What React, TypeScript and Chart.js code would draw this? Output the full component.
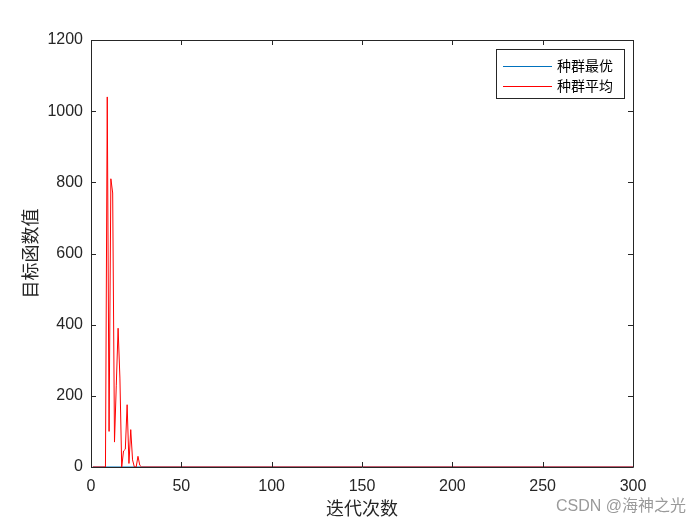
import React, { useEffect, useRef } from "react";
import { Chart, registerables } from "chart.js";

Chart.register(...registerables);

// Iterations and values (piecewise points)
const avgIters = [1, 8, 9, 10, 11, 12, 13, 14, 15, 16, 17, 18, 19, 20, 21, 22, 23, 24, 25, 26, 27, 28, 300];
const avgValues = [0, 0, 1040, 100, 810, 770, 70, 230, 390, 250, 0, 45, 50, 175, 10, 105, 20, 0, 0, 30, 5, 0, 0];
const bestIters = [1, 300];
const bestValues = [0, 0];

const xTicks = [0, 50, 100, 150, 200, 250, 300];
const yTicks = [0, 200, 400, 600, 800, 1000, 1200];

const seriesLabels = ["种群最优", "种群平均"];
const seriesColors = ["#0072BD", "#FF0000"];
const xTitle = "迭代次数";
const yTitle = "目标函数值";
const watermark = "CSDN @海神之光";

const AXIS = "#262626";

const boxPlugin = {
  id: "boxTicks",
  afterDraw(chart: any) {
    const { ctx, chartArea: a, scales } = chart;
    ctx.save();
    ctx.strokeStyle = AXIS;
    ctx.lineWidth = 1;
    ctx.beginPath();
    ctx.rect(Math.round(a.left) + 0.5, Math.round(a.top) + 0.5, Math.round(a.right - a.left), Math.round(a.bottom - a.top));
    ctx.stroke();
    const L = 5;
    ctx.beginPath();
    for (const v of xTicks) {
      const x = Math.round(scales.x.getPixelForValue(v)) + 0.5;
      ctx.moveTo(x, a.bottom);
      ctx.lineTo(x, a.bottom - L);
      ctx.moveTo(x, a.top);
      ctx.lineTo(x, a.top + L);
    }
    for (const v of yTicks) {
      const y = Math.round(scales.y.getPixelForValue(v)) + 0.5;
      ctx.moveTo(a.left, y);
      ctx.lineTo(a.left + L, y);
      ctx.moveTo(a.right, y);
      ctx.lineTo(a.right - L, y);
    }
    ctx.stroke();

    // legend
    const lx = 496, ly = 49, lw = 128, lh = 49;
    ctx.fillStyle = "#fff";
    ctx.fillRect(lx, ly, lw, lh);
    ctx.strokeStyle = AXIS;
    ctx.strokeRect(lx + 0.5, ly + 0.5, lw, lh);
    const rows = [66, 86];
    chart.data.datasets.forEach((ds: any, i: number) => {
      const y = rows[i] + 0.5;
      ctx.strokeStyle = ds.borderColor;
      ctx.beginPath();
      ctx.moveTo(503, y);
      ctx.lineTo(552, y);
      ctx.stroke();
      ctx.fillStyle = "#000";
      ctx.font = "14px 'Noto Sans CJK SC'";
      ctx.textBaseline = "middle";
      ctx.textAlign = "left";
      ctx.fillText(ds.label, 557, rows[i]);
    });

    // watermark
    ctx.fillStyle = "#9a9a9a";
    ctx.font = "16px 'Liberation Sans', 'Noto Sans CJK SC'";
    ctx.textAlign = "right";
    ctx.textBaseline = "middle";
    ctx.fillText(watermark, 686, 507);
    ctx.restore();
  },
};

export default function App() {
  const ref = useRef<HTMLCanvasElement>(null);
  useEffect(() => {
    document.body.style.margin = "0";
    const chart = new Chart(ref.current!, {
      type: "line",
      data: {
        datasets: [
          {
            label: seriesLabels[0],
            data: bestIters.map((x, i) => ({ x, y: bestValues[i] })),
            borderColor: seriesColors[0],
            borderWidth: 1,
            pointRadius: 0,
            tension: 0,
            order: 1,
          },
          {
            label: seriesLabels[1],
            data: avgIters.map((x, i) => ({ x, y: avgValues[i] })),
            borderColor: seriesColors[1],
            borderWidth: 1,
            pointRadius: 0,
            tension: 0,
            order: 0,
          },
        ],
      },
      options: {
        animation: false,
        responsive: false,
        layout: { padding: { top: 40, right: 67, left: 0, bottom: 0 } },
        plugins: { legend: { display: false }, tooltip: { enabled: false } },
        scales: {
          x: {
            type: "linear",
            min: 0,
            max: 300,
            afterBuildTicks: (s: any) => { s.ticks = xTicks.map((v) => ({ value: v })); },
            afterFit: (s: any) => { s.height = 58; },
            grid: { display: false },
            border: { display: false },
            ticks: { color: AXIS, font: { family: "'Liberation Sans'", size: 16 }, padding: 2, maxRotation: 0, callback: (v: any) => String(v) },
            title: { display: true, text: xTitle, color: AXIS, font: { family: "'Noto Sans CJK SC'", size: 18 }, padding: { top: 6, bottom: 6 } },
          },
          y: {
            min: 0,
            max: 1200,
            afterBuildTicks: (s: any) => { s.ticks = yTicks.map((v) => ({ value: v })); },
            afterFit: (s: any) => { s.width = 91; },
            grid: { display: false, drawTicks: false },
            border: { display: false },
            ticks: { color: AXIS, font: { family: "'Liberation Sans'", size: 16 }, padding: 8, callback: (v: any) => String(v) },
            title: { display: true, text: yTitle, color: AXIS, font: { family: "'Noto Sans CJK SC'", size: 18 }, padding: { top: 19, bottom: 19 } },
          },
        },
      },
      plugins: [boxPlugin],
    });
    return () => chart.destroy();
  }, []);
  return <canvas ref={ref} width={700} height={525} style={{ display: "block" }} />;
}
